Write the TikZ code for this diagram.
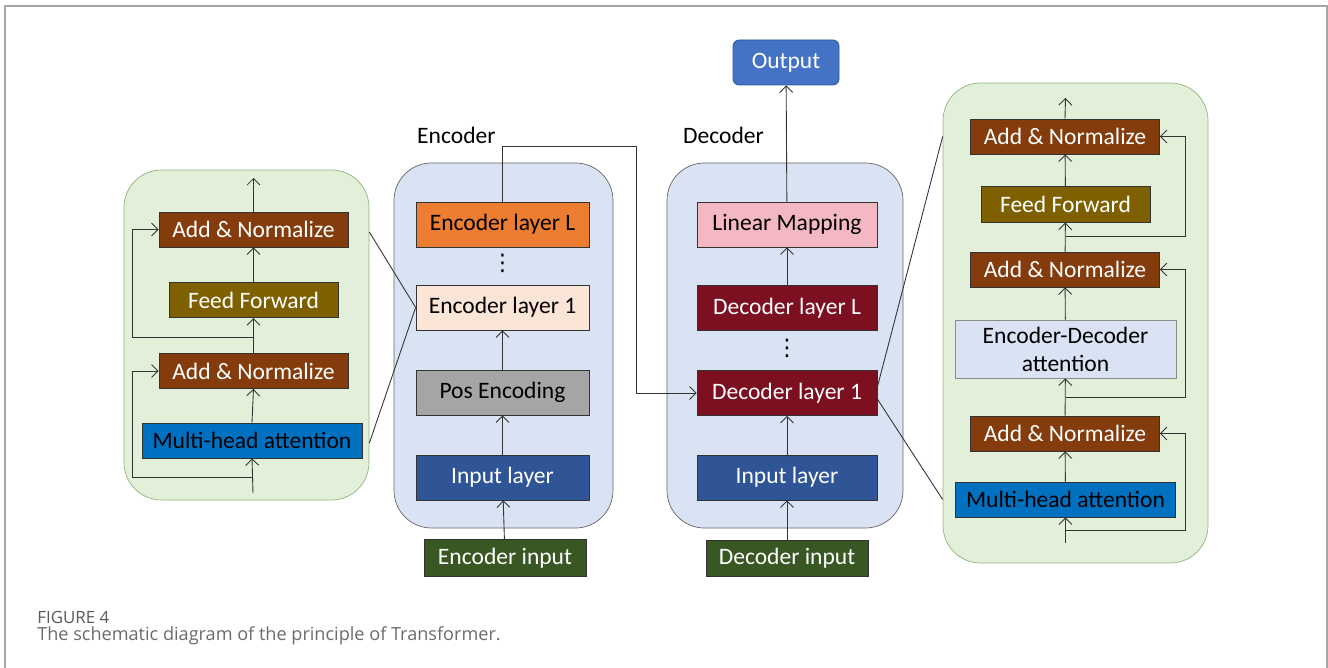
\documentclass[tikz,border=0pt]{standalone}
\usepackage{fontspec}
\setmainfont{Carlito}
\newfontfamily\capfont{Open Sans}
\newfontfamily\symfont{DejaVu Sans}
\usepackage{xcolor}
\usetikzlibrary{arrows.meta}

\definecolor{anbrown}{HTML}{843C0C}
\definecolor{ffolive}{HTML}{7F6000}
\definecolor{mhblue}{HTML}{0070C0}
\definecolor{elorange}{HTML}{ED7D31}
\definecolor{ellight}{HTML}{FBE5D6}
\definecolor{posgray}{HTML}{A5A5A5}
\definecolor{inblue}{HTML}{2F5597}
\definecolor{ingreen}{HTML}{385723}
\definecolor{linpink}{HTML}{F4B8C3}
\definecolor{decred}{HTML}{7D1020}
\definecolor{outblue}{HTML}{4472C4}
\definecolor{pblue}{HTML}{DAE3F3}
\definecolor{pgreen}{HTML}{E2F0D9}
\definecolor{pgreenline}{HTML}{93B47E}
\definecolor{captgray}{HTML}{6B6B6B}

\tikzset{
    box/.style={draw=black!80, thin, inner sep=0pt, text=white},
    panel/.style={rounded corners=7.5mm, thin},
    addnorm/.style={box, fill=anbrown, minimum width=37.8mm, minimum height=7mm},
    feedfwd/.style={box, fill=ffolive, minimum width=33.8mm, minimum height=7.1mm},
    mhatt/.style={box, fill=mhblue, text=black, minimum width=44mm, minimum height=7mm},
    encbox/.style={box, text=black, minimum width=34.6mm, minimum height=9mm},
    decbox/.style={box, minimum width=36mm, minimum height=9mm},
    inbox/.style={box, fill=ingreen, minimum width=32.4mm, minimum height=7.3mm},
    vdotnode/.style={inner sep=0pt, font=\symfont\fontsize{13}{14}\selectfont},
    link/.style={black!80, line width=0.5pt, -{Straight Barb[length=1.3mm, width=2.6mm]}},
    plain/.style={black!80, line width=0.5pt}
}

\begin{document}
\begin{tikzpicture}[x=0.2mm, y=-0.2mm, font=\fontsize{13.4}{16}\selectfont]
    \useasboundingbox (0,0) rectangle (1328,668);
    \draw[black!35, line width=0.45mm] (5,668) -- (5,6) -- (1327,6) -- (1327,668);

    % panels
    \node[panel, fill=pgreen, draw=pgreenline, minimum width=49mm, minimum height=66mm] (lpanel) at (246.5,335) {};
    \node[panel, fill=pblue, draw=black!60, minimum width=43.8mm, minimum height=73mm] (enc) at (503.5,345.5) {};
    \node[panel, fill=pblue, draw=black!60, minimum width=47.2mm, minimum height=73mm] (dec) at (785,345.5) {};
    \node[panel, fill=pgreen, draw=pgreenline, minimum width=53mm, minimum height=96mm] (rpanel) at (1075.5,323) {};

    % encoder layer, expanded
    \node[addnorm] (lan2) at (253.5,229.5) {Add \& Normalize};
    \node[feedfwd] (lff) at (253.5,300) {Feed Forward};
    \node[addnorm] (lan1) at (253.5,371) {Add \& Normalize};
    \node[mhatt] (lmha) at (252,440.5) {Multi-head attention};
    \coordinate (lin) at (253,493);
    \coordinate (lbr1) at (253,477);
    \coordinate (lbr2) at (253.5,337);
    \coordinate (lout) at (253.5,178);

    \draw[link] (lin) -- (lmha.south);
    \draw[link] (lbr1) -- ++(-121,0) |- (lan1.west);
    \draw[link] (lmha.north) -- (lan1.south);
    \draw[link] (lan1.north) -- (lff.south);
    \draw[link] (lbr2) -- ++(-121.5,0) |- (lan2.west);
    \draw[link] (lff.north) -- (lan2.south);
    \draw[link] (lan2.north) -- (lout);

    % encoder stack
    \node[anchor=west] (enclabel) at (411,135) {Encoder};
    \node[encbox, fill=elorange] (encL) at (502.5,224.5) {Encoder layer L};
    \node[vdotnode] (edots) at (502.5,263) {⋮};
    \node[encbox, fill=ellight] (enc1) at (502.5,307.5) {Encoder layer 1};
    \node[encbox, fill=posgray] (pos) at (502.5,392.5) {Pos Encoding};
    \node[encbox, fill=inblue, text=white] (ein) at (502.5,477.5) {Input layer};
    \node[inbox] (encin) at (505,558) {Encoder input};

    \draw[link] (encin) -- (ein);
    \draw[link] (ein) -- (pos);
    \draw[link] (pos) -- (enc1);
    \draw[plain] (lpanel.east |- 0,232) -- (enc1.west);
    \draw[plain] (lpanel.east |- 0,443) -- (enc1.west);

    % decoder stack
    \node[anchor=west] (declabel) at (677,135) {Decoder};
    \node[box, fill=outblue, draw=inblue, rounded corners=1.2mm, minimum width=21.2mm, minimum height=9mm] (out) at (786,62.5) {Output};
    \node[decbox, fill=linpink, text=black] (lin2) at (787,224.5) {Linear Mapping};
    \node[decbox, fill=decred] (decL) at (787,308) {Decoder layer L};
    \node[vdotnode] (ddots) at (787,348) {⋮};
    \node[decbox, fill=decred] (dec1) at (787,393) {Decoder layer 1};
    \node[decbox, fill=inblue] (din) at (787,477.5) {Input layer};
    \node[inbox] (decin) at (787,558.5) {Decoder input};
    \coordinate (cross) at (636,146);

    \draw[link] (decin) -- (din);
    \draw[link] (din) -- (dec1);
    \draw[link] (decL) -- (lin2);
    \draw[link] (lin2) -- (out);
    \draw[link] (encL.north) |- (cross) |- (dec1.west);

    % decoder layer, expanded
    \node[addnorm] (ran3) at (1065,136.5) {Add \& Normalize};
    \node[feedfwd] (rff) at (1065.5,204.5) {Feed Forward};
    \node[addnorm] (ran2) at (1065,269.5) {Add \& Normalize};
    \node[box, fill=pblue, draw=black!45, text=black, align=center, minimum width=44.2mm, minimum height=11.6mm] (red) at (1065.5,349) {Encoder-Decoder\\attention};
    \node[addnorm] (ran1) at (1065,433.5) {Add \& Normalize};
    \node[mhatt] (rmha) at (1065.5,499.5) {Multi-head attention};
    \coordinate (rin) at (1065.5,543);
    \coordinate (rbr1) at (1065.5,530);
    \coordinate (rbr2) at (1065.5,397);
    \coordinate (rbr3) at (1065.5,236);
    \coordinate (rout) at (1065.5,98);

    \draw[link] (rin) -- (rmha);
    \draw[link] (rbr1) -- ++(119.5,0) |- (ran1.east);
    \draw[link] (rmha) -- (ran1);
    \draw[link] (ran1) -- (red);
    \draw[link] (rbr2) -- ++(119.5,0) |- (ran2.east);
    \draw[link] (red) -- (ran2);
    \draw[link] (ran2) -- (rff);
    \draw[link] (rbr3) -- ++(119.5,0) |- (ran3.east);
    \draw[link] (rff) -- (ran3);
    \draw[link] (ran3.north) -- (rout);
    \draw[plain] ([yshift=1.2mm]dec1.east) -- (rpanel.west |- ran3);
    \draw[plain] ([yshift=-1.2mm]dec1.east) -- (rpanel.west |- rmha);

    % caption
    \node[anchor=west, inner sep=0pt, text=black!65, font=\capfont\fontsize{9.6}{11}\selectfont] (fignum) at (37,617) {FIGURE 4};
    \node[anchor=west, inner sep=0pt, text=captgray, font=\capfont\fontsize{10.3}{12}\selectfont] (figcap) at (37,636) {The schematic diagram of the principle of Transformer.};
\end{tikzpicture}
\end{document}
